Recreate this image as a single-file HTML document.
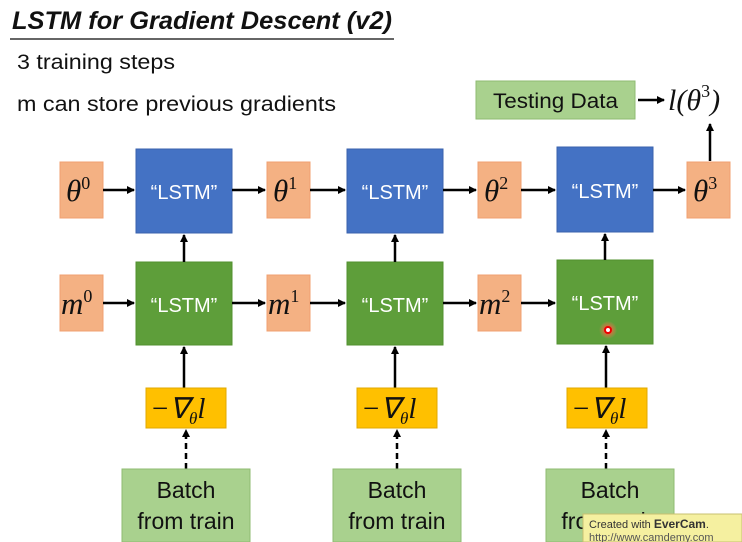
<!DOCTYPE html>
<html><head><style>
html,body{margin:0;padding:0;background:#fff;}
svg{display:block;}
.t{font-family:"Liberation Sans",sans-serif;}
.m{font-family:"Liberation Serif",serif;font-style:italic;}
</style></head><body>
<svg width="742" height="542" viewBox="0 0 742 542" xmlns="http://www.w3.org/2000/svg">
<defs>
<marker id="a" markerWidth="8" markerHeight="8" refX="7" refY="4" orient="auto" markerUnits="userSpaceOnUse"><path d="M0,0 L8,4 L0,8 z" fill="#000"/></marker>
<radialGradient id="g"><stop offset="0" stop-color="#ff3030"/><stop offset="0.5" stop-color="#ff6040" stop-opacity="0.6"/><stop offset="1" stop-color="#ff8060" stop-opacity="0"/></radialGradient>
</defs>
<text class="t" x="12" y="29" font-size="25" font-weight="bold" font-style="italic" fill="#111" textLength="380" lengthAdjust="spacingAndGlyphs">LSTM for Gradient Descent (v2)</text>
<line x1="10" y1="39" x2="394" y2="39" stroke="#666" stroke-width="2"/>
<text class="t" x="17" y="69" font-size="21" fill="#111" textLength="158" lengthAdjust="spacingAndGlyphs">3 training steps</text>
<text class="t" x="17" y="111" font-size="21" fill="#111" textLength="319" lengthAdjust="spacingAndGlyphs">m can store previous gradients</text>
<!-- testing data -->
<rect x="476" y="81" width="159" height="38" fill="#a9d18e" stroke="#8fbb72"/>
<text class="t" x="493" y="108" font-size="21" fill="#111" textLength="125" lengthAdjust="spacingAndGlyphs">Testing Data</text>
<line x1="638" y1="100" x2="664" y2="100" stroke="#000" stroke-width="2.5" marker-end="url(#a)"/>
<text class="m" x="668" y="110" font-size="30" fill="#111">l(θ<tspan font-size="18" dy="-13" font-style="normal">3</tspan><tspan dy="13">)</tspan></text>
<line x1="710" y1="161" x2="710" y2="124" stroke="#000" stroke-width="2.5" marker-end="url(#a)"/>
<!-- theta boxes -->
<g fill="#f4b183" stroke="#f0a070">
<rect x="60" y="162" width="43" height="56"/><rect x="267" y="162" width="43" height="56"/><rect x="478" y="162" width="43" height="56"/><rect x="687" y="162" width="43" height="56"/>
<rect x="60" y="275" width="43" height="56"/><rect x="267" y="275" width="43" height="56"/><rect x="478" y="275" width="43" height="56"/>
</g>
<g class="m" font-size="31" fill="#111">
<text x="66" y="201">θ<tspan font-size="18" dy="-12" font-style="normal">0</tspan></text>
<text x="273" y="201">θ<tspan font-size="18" dy="-12" font-style="normal">1</tspan></text>
<text x="484" y="201">θ<tspan font-size="18" dy="-12" font-style="normal">2</tspan></text>
<text x="693" y="201">θ<tspan font-size="18" dy="-12" font-style="normal">3</tspan></text>
<text x="61" y="314">m<tspan font-size="18" dy="-12" font-style="normal">0</tspan></text>
<text x="268" y="314">m<tspan font-size="18" dy="-12" font-style="normal">1</tspan></text>
<text x="479" y="314">m<tspan font-size="18" dy="-12" font-style="normal">2</tspan></text>
</g>
<!-- LSTM boxes -->
<g fill="#4472c4" stroke="#3a62ad">
<rect x="136" y="149" width="96" height="84"/><rect x="347" y="149" width="96" height="84"/><rect x="557" y="147" width="96" height="85"/>
</g>
<g fill="#5e9e3a" stroke="#52902f">
<rect x="136" y="262" width="96" height="83"/><rect x="347" y="262" width="96" height="83"/><rect x="557" y="260" width="96" height="84"/>
</g>
<g class="t" font-size="20" fill="#fff" text-anchor="middle">
<text x="184" y="199">“LSTM”</text><text x="395" y="199">“LSTM”</text><text x="605" y="198">“LSTM”</text>
<text x="184" y="312">“LSTM”</text><text x="395" y="312">“LSTM”</text><text x="605" y="310">“LSTM”</text>
</g>
<circle cx="608" cy="330" r="9" fill="url(#g)"/><circle cx="608" cy="330" r="3" fill="#fff" stroke="#e00" stroke-width="2"/>
<!-- horizontal arrows -->
<g stroke="#000" stroke-width="2.5" marker-end="url(#a)">
<line x1="103" y1="190" x2="134" y2="190"/><line x1="232" y1="190" x2="265" y2="190"/><line x1="310" y1="190" x2="345" y2="190"/><line x1="443" y1="190" x2="476" y2="190"/><line x1="521" y1="190" x2="555" y2="190"/><line x1="653" y1="190" x2="685" y2="190"/>
<line x1="103" y1="303" x2="134" y2="303"/><line x1="232" y1="303" x2="265" y2="303"/><line x1="310" y1="303" x2="345" y2="303"/><line x1="443" y1="303" x2="476" y2="303"/><line x1="521" y1="303" x2="555" y2="303"/>
<line x1="184" y1="262" x2="184" y2="235"/><line x1="395" y1="262" x2="395" y2="235"/><line x1="605" y1="260" x2="605" y2="234"/>
<line x1="184" y1="388" x2="184" y2="347"/><line x1="395" y1="388" x2="395" y2="347"/><line x1="606" y1="388" x2="606" y2="346"/>
</g>
<g stroke="#000" stroke-width="2.5" stroke-dasharray="6,4" marker-end="url(#a)">
<line x1="186" y1="469" x2="186" y2="430"/><line x1="397" y1="469" x2="397" y2="430"/><line x1="606" y1="469" x2="606" y2="430"/>
</g>
<!-- gradient boxes -->
<g fill="#ffc000" stroke="#e0a800">
<rect x="146" y="388" width="80" height="40"/><rect x="357" y="388" width="80" height="40"/><rect x="567" y="388" width="80" height="40"/>
</g>
<g class="m" font-size="29" fill="#111">
<text x="150" y="418">−∇<tspan font-size="17" dy="6">θ</tspan><tspan dy="-6">l</tspan></text>
<text x="361" y="418">−∇<tspan font-size="17" dy="6">θ</tspan><tspan dy="-6">l</tspan></text>
<text x="571" y="418">−∇<tspan font-size="17" dy="6">θ</tspan><tspan dy="-6">l</tspan></text>
</g>
<!-- batch boxes -->
<g fill="#a9d18e" stroke="#8fbb72">
<rect x="122" y="469" width="128" height="73"/><rect x="333" y="469" width="128" height="73"/><rect x="546" y="469" width="128" height="73"/>
</g>
<g class="t" font-size="23" fill="#111" text-anchor="middle">
<text x="186" y="498">Batch</text><text x="186" y="529">from train</text>
<text x="397" y="498">Batch</text><text x="397" y="529">from train</text>
<text x="610" y="498">Batch</text><text x="610" y="529">from train</text>
</g>
<rect x="583" y="514" width="159" height="28" fill="#f5f0a0" stroke="#c8c070"/>
<text class="t" x="589" y="528" font-size="11" fill="#333">Created with <tspan font-weight="bold" font-size="12">EverCam</tspan>.</text>
<text class="t" x="589" y="541" font-size="11" fill="#555">http://www.camdemy.com</text>
</svg>
</body></html>
